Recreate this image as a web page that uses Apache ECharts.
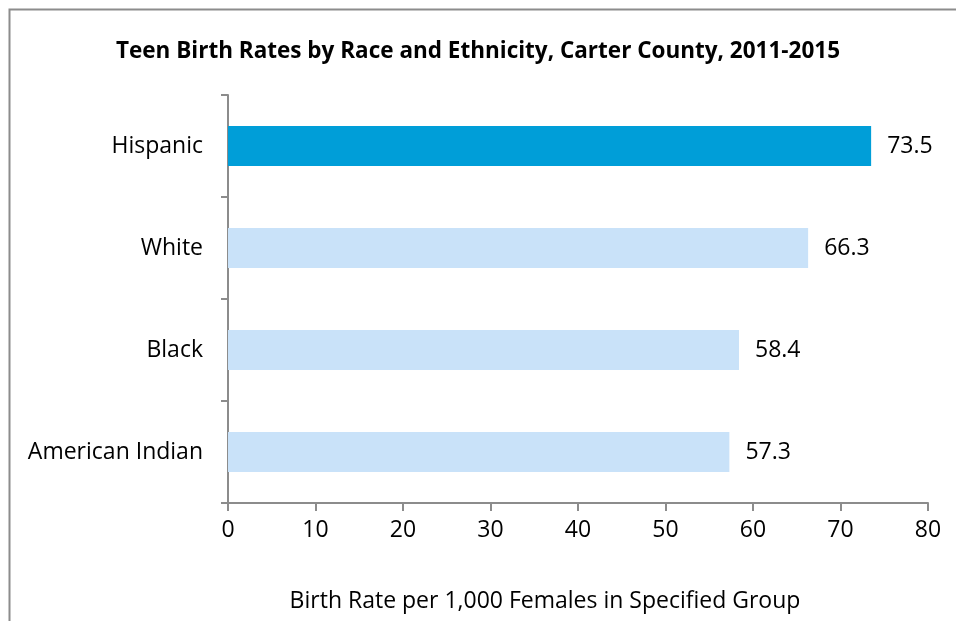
<!DOCTYPE html>
<html>
<head>
<meta charset="utf-8">
<script src="https://cdn.jsdelivr.net/npm/echarts@6/dist/echarts.min.js"></script>
<style>
  html, body { margin: 0; padding: 0; background: #fff; }
  #chart { width: 956px; height: 621px; }
</style>
</head>
<body>
<div id="chart"></div>
<script>
// 数据
const categories = ['Hispanic', 'White', 'Black', 'American Indian']
const rates = [73.5, 66.3, 58.4, 57.3]
const barColors = ['#009ed8', '#c9e2f9', '#c9e2f9', '#c9e2f9']

const font = '"Open Sans", sans-serif'
const axisGray = '#8c8c8c'

const chart = echarts.init(document.getElementById('chart'))

const options = {
  animation: false,
  title: {
    text: 'Teen Birth Rates by Race and Ethnicity, Carter County, 2011-2015',
    left: 'center',
    top: 35,
    textStyle: { fontFamily: font, fontSize: 22.5, fontWeight: 'bold', color: '#000' }
  },
  // 外框
  graphic: [{
    type: 'rect',
    shape: { x: 9.5, y: 9.5, width: 1200, height: 1200 },
    style: { fill: 'none', stroke: axisGray, lineWidth: 2 },
    silent: true
  }],
  grid: { left: 228, right: 28, top: 95, bottom: 118 },
  xAxis: {
    type: 'value',
    min: 0,
    max: 80,
    interval: 10,
    name: 'Birth Rate per 1,000 Females in Specified Group',
    nameLocation: 'middle',
    nameGap: 87,
    nameTextStyle: { fontFamily: font, fontSize: 23, color: '#000', padding: [0, 66, 0, 0] },
    axisLine: { show: true, lineStyle: { color: axisGray, width: 2 } },
    axisTick: { show: true, length: 8, lineStyle: { color: axisGray, width: 2 } },
    axisLabel: { fontFamily: font, fontSize: 23, color: '#000', margin: 16 },
    splitLine: { show: false }
  },
  yAxis: {
    type: 'category',
    inverse: true,
    data: categories,
    axisLine: { show: true, lineStyle: { color: axisGray, width: 2 } },
    axisTick: { show: true, length: 7, lineStyle: { color: axisGray, width: 2 } },
    axisLabel: { fontFamily: font, fontSize: 23, color: '#000', margin: 25 }
  },
  series: [{
    type: 'bar',
    data: rates.map((v, i) => ({ value: v, itemStyle: { color: barColors[i] } })),
    barWidth: '39%',
    label: {
      show: true,
      position: 'right',
      distance: 16,
      fontFamily: font,
      fontSize: 23,
      color: '#000',
      formatter: p => p.value.toFixed(1)
    }
  }]
}

chart.setOption(options)
</script>
</body>
</html>
